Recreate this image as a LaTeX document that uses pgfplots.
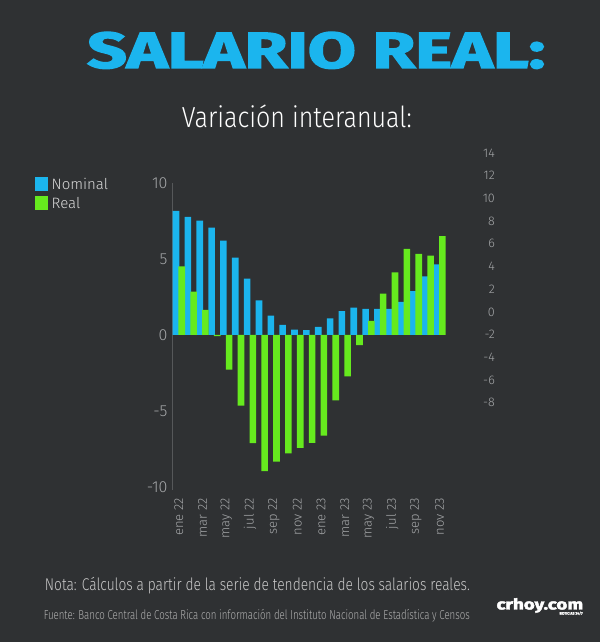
\documentclass[border=0pt]{standalone}
\usepackage{pgfplots}
\pgfplotsset{compat=1.18}
\usepackage{fontspec}
\setmainfont{Fira Sans}
\newfontfamily\light{Fira Sans Light}
\newfontfamily\heavy{Fira Sans Bold}[FakeBold=2.5]
\definecolor{bgc}{HTML}{2F3133}
\definecolor{bluec}{HTML}{1BB5EE}
\definecolor{greenc}{HTML}{66EA1E}
\definecolor{tickc}{HTML}{A5A7A9}
\definecolor{axc}{HTML}{56585A}
\definecolor{legc}{HTML}{D8D8D8}
\definecolor{notac}{HTML}{C8C8C8}
\definecolor{fuentec}{HTML}{B0B0B0}

\pgfplotstableread{
i nominal
0 8.16
1 7.77
2 7.53
3 7.06
4 6.21
5 5.09
6 3.70
7 2.27
8 1.28
9 0.67
10 0.35
11 0.32
12 0.53
13 1.10
14 1.57
15 1.80
16 1.71
17 1.71
18 1.71
19 2.17
20 2.89
21 3.86
22 4.65
}\nominaltab

\pgfplotstableread{
i real
0 4.52
1 2.86
2 1.65
3 -0.08
4 -2.28
5 -4.65
6 -7.12
7 -8.96
8 -8.34
9 -7.79
10 -7.43
11 -7.10
12 -6.62
13 -4.31
14 -2.72
15 -0.66
16 0.92
17 2.72
18 4.12
19 5.66
20 5.33
21 5.22
22 6.51
}\realtab

\begin{document}
\begin{tikzpicture}[x=1pt,y=1pt]
\fill[bgc] (0,0) rectangle (600,642);

% title
\node[anchor=south west, inner sep=0pt, text=bluec] at (87,573)
  {\resizebox{458pt}{36pt}{\heavy SALARIO REAL:}};
\node[anchor=base west, inner sep=0pt, text=white] at (181.7,514.7)
  {\resizebox{230pt}{\height}{\fontsize{29}{29}\selectfont\light Variación interanual:}};

% legend
\fill[bluec] (35,451) rectangle (48,465);
\fill[greenc] (35,432) rectangle (48,446);
\node[anchor=west, inner sep=0pt, text=legc, font=\light\fontsize{15}{15}\selectfont] at (51.5,458) {Nominal};
\node[anchor=west, inner sep=0pt, text=legc, font=\light\fontsize{15}{15}\selectfont] at (51.5,439) {Real};

\begin{axis}[
  at={(172.7pt,152pt)}, anchor=south west,
  width=274pt, height=307pt, scale only axis,
  xmin=-0.523, xmax=22.6, ymin=-10.2, ymax=10,
  axis lines=left, axis line style={-},
  x axis line style={draw=none},
  y axis line style={draw=axc, line width=0.8pt},
  xtick={0,2,...,22},
  xticklabels={ene 22, mar 22, may 22, jul 22, sep 22, nov 22, ene 23, mar 23, may 23, jul 23, sep 23, nov 23},
  ytick={-10,-5,0,5,10},
  major tick length=0pt, tick style={draw=none},
  xticklabel style={font=\light\fontsize{13}{13}\selectfont, text=tickc, yshift=-8pt, rotate=90, anchor=east, inner sep=0pt},
  yticklabel style={font=\light\fontsize{16}{16}\selectfont, text=tickc, anchor=east, inner sep=0pt, xshift=-5pt},
  /pgf/number format/assume math mode=true,
  clip=false,
]
\addplot[ybar, bar width=6.6pt, bar shift=-2.85pt, fill=bluec, draw=none] table[x=i, y=nominal] {\nominaltab};
\addplot[ybar, bar width=6.6pt, bar shift=2.85pt, fill=greenc, draw=none] table[x=i, y=real] {\realtab};
\end{axis}

\begin{axis}[
  at={(172.7pt,227.8pt)}, anchor=south west,
  width=274pt, height=272.6pt, scale only axis,
  xmin=-0.523, xmax=22.6, ymin=-9, ymax=15,
  hide x axis,
  axis y line*=right, y axis line style={draw=none},
  ytick={-8,-6,...,14},
  major tick length=0pt, tick style={draw=none},
  yticklabel style={font=\light\fontsize{12.5}{12.5}\selectfont, text=tickc, anchor=east, inner sep=0pt, xshift=48.3pt},
  /pgf/number format/assume math mode=true,
]
\addplot[draw=none] coordinates {(0,0)};
\end{axis}

% notes
\node[anchor=base west, inner sep=0pt, text=notac] at (44.7,51.8)
  {\resizebox{425pt}{\height}{\fontsize{17}{17}\selectfont\light Nota: Cálculos a partir de la serie de tendencia de los salarios reales.}};
\node[anchor=base west, inner sep=0pt, text=fuentec] at (43.6,22)
  {\resizebox{426pt}{\height}{\fontsize{13}{13}\selectfont\light Fuente: Banco Central de Costa Rica con información del Instituto Nacional de Estadística y Censos}};
\node[anchor=base west, inner sep=0pt, text=white] at (496.4,32.5)
  {\resizebox{86.5pt}{\height}{\fontsize{15}{15}\selectfont\heavy crhoy.com}};
\node[anchor=north east, inner sep=0pt, text=white] at (582.9,30.5)
  {\fontsize{3.6}{4}\selectfont\heavy NOTICIAS 24/7};
\end{tikzpicture}
\end{document}
